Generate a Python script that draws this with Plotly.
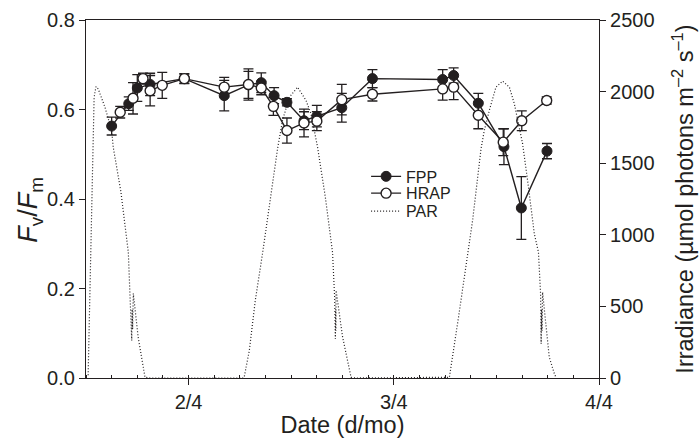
import plotly.graph_objects as go

# Fv/Fm for the flat-panel photobioreactor (FPP): sample time, mean, SD
fpp_time = [
    "2010-04-01 15:00", "2010-04-01 17:00", "2010-04-01 18:00", "2010-04-01 19:30",
    "2010-04-01 23:30", "2010-04-02 04:10", "2010-04-02 07:00", "2010-04-02 08:30",
    "2010-04-02 10:00", "2010-04-02 11:30", "2010-04-02 13:30", "2010-04-02 15:00",
    "2010-04-02 17:55", "2010-04-02 21:30", "2010-04-03 05:43", "2010-04-03 07:00",
    "2010-04-03 09:53", "2010-04-03 12:53", "2010-04-03 14:55", "2010-04-03 17:55",
]
fpp_fvfm = [0.563, 0.613, 0.648, 0.656, 0.669, 0.631, 0.655, 0.660, 0.631, 0.616,
            0.575, 0.585, 0.604, 0.669, 0.667, 0.676, 0.614, 0.517, 0.380, 0.507]
fpp_sd = [0.020, 0.015, 0.030, 0.025, 0.010, 0.034, 0.030, 0.022, 0.018, 0.008,
          0.020, 0.024, 0.032, 0.020, 0.022, 0.017, 0.022, 0.040, 0.070, 0.017]

# Fv/Fm for the high-rate algal pond (HRAP)
hrap_time = [
    "2010-04-01 16:00", "2010-04-01 17:30", "2010-04-01 18:40", "2010-04-01 19:30",
    "2010-04-01 20:55", "2010-04-01 23:30", "2010-04-02 04:10", "2010-04-02 07:00",
    "2010-04-02 08:30", "2010-04-02 09:55", "2010-04-02 11:30", "2010-04-02 13:30",
    "2010-04-02 15:00", "2010-04-02 17:55", "2010-04-02 21:30", "2010-04-03 05:43",
    "2010-04-03 07:00", "2010-04-03 09:53", "2010-04-03 12:48", "2010-04-03 14:58",
    "2010-04-03 17:53",
]
hrap_fvfm = [0.594, 0.625, 0.669, 0.642, 0.654, 0.669, 0.650, 0.656, 0.648, 0.607,
             0.553, 0.570, 0.574, 0.622, 0.634, 0.646, 0.650, 0.587, 0.527, 0.575,
             0.620]
hrap_sd = [0.013, 0.035, 0.012, 0.034, 0.029, 0.011, 0.022, 0.035, 0.015, 0.020,
           0.028, 0.031, 0.021, 0.034, 0.015, 0.025, 0.028, 0.030, 0.030, 0.022,
           0.008]

# Photosynthetically active radiation (µmol photons m-2 s-1)
par_time = [
    "2010-04-01 12:15", "2010-04-01 12:35", "2010-04-01 12:50", "2010-04-01 12:57",
    "2010-04-01 13:10", "2010-04-01 13:26", "2010-04-01 14:13", "2010-04-01 15:00",
    "2010-04-01 15:11", "2010-04-01 16:05", "2010-04-01 16:57", "2010-04-01 17:12",
    "2010-04-01 17:21", "2010-04-01 17:24", "2010-04-01 17:27", "2010-04-01 17:32",
    "2010-04-01 18:06", "2010-04-01 18:54", "2010-04-01 19:30",
    "2010-04-02 06:20", "2010-04-02 06:30", "2010-04-02 07:06", "2010-04-02 07:48",
    "2010-04-02 08:40", "2010-04-02 10:25", "2010-04-02 10:59", "2010-04-02 11:47",
    "2010-04-02 12:45", "2010-04-02 13:44", "2010-04-02 14:19", "2010-04-02 15:05",
    "2010-04-02 16:00", "2010-04-02 16:50", "2010-04-02 17:05", "2010-04-02 17:10",
    "2010-04-02 17:12", "2010-04-02 17:13", "2010-04-02 17:15", "2010-04-02 18:00",
    "2010-04-02 19:00", "2010-04-02 19:30",
    "2010-04-03 06:20", "2010-04-03 06:30", "2010-04-03 07:35", "2010-04-03 08:38",
    "2010-04-03 09:13", "2010-04-03 10:12", "2010-04-03 10:35", "2010-04-03 11:10",
    "2010-04-03 11:57", "2010-04-03 12:44", "2010-04-03 13:31", "2010-04-03 14:06",
    "2010-04-03 14:41", "2010-04-03 15:04", "2010-04-03 15:39", "2010-04-03 16:26",
    "2010-04-03 16:55", "2010-04-03 17:10", "2010-04-03 17:14", "2010-04-03 17:17",
    "2010-04-03 17:20", "2010-04-03 17:24", "2010-04-03 18:11", "2010-04-03 18:47",
    "2010-04-03 19:00",
]
par_irr = [
    20, 900, 1700, 1960, 2035, 2018, 1891, 1728, 1612, 1300, 878, 560,
    262, 480, 340, 590, 285, 5, 0,
    0, 5, 192, 541, 878, 1606, 1798, 1961, 2031, 1938, 1845, 1612,
    1260, 878, 560, 274, 480, 330, 611, 290, 5, 0,
    0, 5, 430, 878, 1100, 1600, 1728, 1868, 2031, 2073, 2031, 1915,
    1751, 1635, 1379, 1007, 880, 588, 239, 480, 330, 599, 145, 29, 0,
]

day_ticks = ["2010-04-02", "2010-04-03", "2010-04-04"]
day_labels = ["2/4", "3/4", "4/4"]
fvfm_ticks = [0.0, 0.2, 0.4, 0.6, 0.8]
irr_ticks = [0, 500, 1000, 1500, 2000, 2500]

INK = "#231f20"
FONT = "Liberation Sans, Arial, Helvetica, sans-serif"

fig = go.Figure()

fig.add_trace(go.Scatter(
    x=par_time, y=par_irr, yaxis="y2", name="PAR", mode="lines",
    line=dict(color=INK, width=1.2, dash="1px,2px"), legend="legend3",
))

err_style = dict(type="data", color=INK, thickness=1.3, width=5)

fig.add_trace(go.Scatter(
    x=fpp_time, y=fpp_fvfm, name="FPP", mode="lines+markers",
    error_y=dict(array=fpp_sd, **err_style),
    line=dict(color=INK, width=1.4),
    marker=dict(symbol="circle", size=10, color=INK, line=dict(color=INK, width=1)),
    legend="legend",
))

fig.add_trace(go.Scatter(
    x=hrap_time, y=hrap_fvfm, name="HRAP", mode="lines+markers",
    error_y=dict(array=hrap_sd, **err_style),
    line=dict(color=INK, width=1.4),
    marker=dict(symbol="circle", size=10, color="white", line=dict(color=INK, width=1.4)),
    legend="legend2",
))

axis_common = dict(
    showline=True, linecolor=INK, linewidth=1.2, showgrid=False, zeroline=False,
    ticks="outside", ticklen=6, tickwidth=1.2, tickcolor=INK,
    tickfont=dict(size=20, color=INK), automargin=False,
)


def legend_box(y):
    return dict(
        x=0.546, y=y, xanchor="left", yanchor="middle",
        bgcolor="rgba(0,0,0,0)", font=dict(size=16, color=INK),
        tracegroupgap=0, itemwidth=30,
    )


fig.update_layout(
    width=699, height=438,
    margin=dict(l=86, r=100, t=20, b=60, autoexpand=False),
    paper_bgcolor="white", plot_bgcolor="white",
    font=dict(family=FONT, size=18, color=INK),
    showlegend=True,
    legend=legend_box(0.563),
    legend2=legend_box(0.516),
    legend3=legend_box(0.466),
    xaxis=dict(
        type="date", range=["2010-04-01 12:00", "2010-04-04 00:00"],
        tickmode="array", tickvals=day_ticks, ticktext=day_labels,
        mirror=True,
        minor=dict(ticks="inside", ticklen=3, tickwidth=1, tickcolor=INK,
                   dtick=3 * 3600 * 1000, tick0="2010-04-01 00:00", showgrid=False),
        title=dict(text="Date (d/mo)", font=dict(size=23.5), standoff=6),
        **axis_common,
    ),
    yaxis=dict(
        range=[0, 0.8], tickmode="array", tickvals=fvfm_ticks, tickformat=".1f",
        **axis_common,
    ),
    yaxis2=dict(
        overlaying="y", side="right", range=[0, 2500],
        tickmode="array", tickvals=irr_ticks,
        title=dict(text="Irradiance (µmol photons m<sup>–2</sup> s<sup>–1</sup>)",
                   font=dict(size=23.5), standoff=22),
        **axis_common,
    ),
    annotations=[dict(
        text="<i>F</i><sub>v</sub>/<i>F</i><sub>m</sub>",
        xref="paper", yref="paper", x=-0.109, y=0.47,
        xanchor="center", yanchor="middle", textangle=-90, showarrow=False,
        font=dict(size=27, color=INK),
    )],
)

fig.write_html("out.html")
